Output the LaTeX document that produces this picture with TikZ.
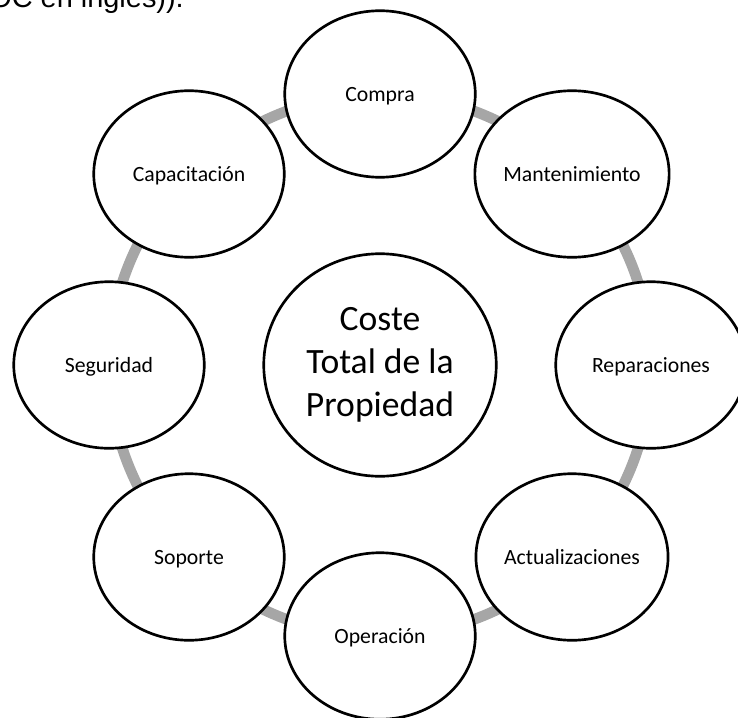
\documentclass[tikz,border=0pt]{standalone}
\usepackage{fontspec}
\setmainfont{Carlito}
\newfontfamily\bodyfont{Liberation Sans}
\usetikzlibrary{shapes.geometric,backgrounds}
\definecolor{ringgray}{HTML}{A6A6A6}

\begin{document}
\begin{tikzpicture}[x=0.75pt,y=0.75pt]
\tikzset{
  part/.style={ellipse,draw=black,line width=2pt,fill=white,inner sep=0pt,
    minimum width=142.9pt,minimum height=124.9pt,
    font=\fontsize{16.3}{19.5}\selectfont,text height=10.5pt,text depth=0pt},
  total/.style={ellipse,draw=black,line width=2pt,fill=white,inner sep=0pt,
    minimum width=174.4pt,minimum height=166.9pt,align=center,
    font=\fontsize{26.7}{32.3}\selectfont},
  ring/.style={draw=ringgray,line width=8pt,bend left=22.5,looseness=0.885}
}
\useasboundingbox (0,0) rectangle (738,-717);
\clip (0,0) rectangle (738,-717);
% cut-off line of the page text above the diagram
\node[anchor=base west,inner sep=0pt,font=\bodyfont\fontsize{21.7}{26}\selectfont] (pagetext) at (-11,-8) {OC en inglés)).};
% centre
\node[total] (ctp) at (380,-365) {Coste\\Total de la\\Propiedad};
% cost parts, clockwise from the top
\node[part] (compra) at (380,-94) {Compra};
\node[part] (mant) at (572,-174) {Mantenimiento};
\node[part] (repar) at (651,-365) {Reparaciones};
\node[part] (actual) at (572,-557) {Actualizaciones};
\node[part] (oper) at (380,-636) {Operación};
\node[part] (soporte) at (189,-557) {Soporte};
\node[part] (segur) at (109,-365) {Seguridad};
\node[part] (capac) at (189,-174) {Capacitación};
% grey ring
\begin{scope}[on background layer]
\draw[ring] (compra.center) to (mant.center);
\draw[ring] (mant.center) to (repar.center);
\draw[ring] (repar.center) to (actual.center);
\draw[ring] (actual.center) to (oper.center);
\draw[ring] (oper.center) to (soporte.center);
\draw[ring] (soporte.center) to (segur.center);
\draw[ring] (segur.center) to (capac.center);
\draw[ring] (capac.center) to (compra.center);
\end{scope}
\end{tikzpicture}
\end{document}
